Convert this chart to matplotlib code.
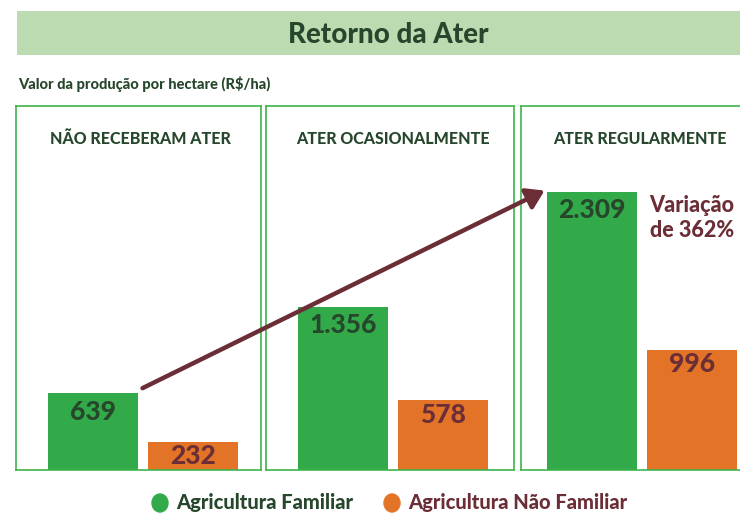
import matplotlib
matplotlib.use("Agg")
import matplotlib.pyplot as plt
from matplotlib.patches import Rectangle, FancyArrowPatch, Ellipse

# dados
panels = ["NÃO RECEBERAM ATER", "ATER OCASIONALMENTE", "ATER REGULARMENTE"]
familiar = [639, 1356, 2309]
nao_familiar = [232, 578, 996]
familiar_labels = ["639", "1.356", "2.309"]
nao_familiar_labels = ["232", "578", "996"]
series_names = ["Agricultura Familiar", "Agricultura Não Familiar"]
variacao = "Variação\nde 362%"

GREEN = "#33aa4a"
ORANGE = "#e37427"
DARK = "#26472b"
MAROON = "#6b2e36"
BORDER = "#3cb54a"
HEAVY = 900

plt.rcParams["font.family"] = ["Lato", "DejaVu Sans"]

W, H = 740, 513
fig = plt.figure(figsize=(W / 100, H / 100), dpi=100)


def fx(x):
    return x / W


def fy(y):
    return 1 - y / H


# faixa do título
fig.add_artist(Rectangle((fx(17), fy(55)), fx(740 - 17), (55 - 11) / H,
                         transform=fig.transFigure, color="#bddbb1", lw=0))
fig.text(fx(388), fy(35), "Retorno da Ater", ha="center", va="center",
         fontsize=20, fontweight=HEAVY, color=DARK)
fig.text(fx(18), fy(84), "Valor da produção por hectare (R$/ha)", ha="left",
         va="center", fontsize=10.5, fontweight=HEAVY, color=DARK)

# painéis: (esquerda, direita, centro da barra verde, centro do título) em pixels
boxes = [(16, 261, 93, 140), (266, 514, 343, 393), (521, 760, 592, 640)]
top, bottom = 106, 470
px_per_unit = 0.1205
ymax = (bottom - top) / px_per_unit

axes = []
for i, (l, r, gc, hc) in enumerate(boxes):
    ax = fig.add_axes([fx(l), fy(bottom), (r - l) / W, (bottom - top) / H])
    # 100 px por unidade no eixo x
    x0 = -(gc - l) / 100
    ax.set_xlim(x0, x0 + (r - l) / 100)
    ax.set_ylim(0, ymax)
    ax.set_xticks([])
    ax.set_yticks([])
    for s in ax.spines.values():
        s.set_color(BORDER)
        s.set_linewidth(1.2)
    ax.bar(0, familiar[i], width=0.9, color=GREEN)
    ax.bar(1.0, nao_familiar[i], width=0.9, color=ORANGE)
    ax.text(0, familiar[i] - 55, familiar_labels[i], ha="center", va="top",
            fontsize=19, fontweight=HEAVY, color=DARK)
    ax.text(1.0, nao_familiar[i] - 20, nao_familiar_labels[i], ha="center",
            va="top", fontsize=19, fontweight=HEAVY, color=MAROON)
    fig.text(fx(hc), fy(139), panels[i], ha="center", va="center",
             fontsize=11.5, fontweight=HEAVY, color=DARK)
    axes.append(ax)

# seta de variação
fig.canvas.draw()
p0 = axes[0].transData.transform((0.47, familiar[0] + 30))
p1 = axes[2].transData.transform((-0.45, familiar[2] + 20))
arrow = FancyArrowPatch(p0, p1, arrowstyle="-|>,head_length=7,head_width=4.5",
                        mutation_scale=1.5, color=MAROON, lw=3.2,
                        transform=None)
fig.add_artist(arrow)
fig.text(fx(692), fy(218), variacao, ha="center", va="center", fontsize=15.5,
         fontweight=HEAVY, color=MAROON, linespacing=1.2)

# legenda
for cx, tx, color, tcolor, name in [(160, 176, GREEN, DARK, series_names[0]),
                                    (392, 408, ORANGE, MAROON, series_names[1])]:
    fig.add_artist(Ellipse((fx(cx), fy(503)), 16 / W, 18 / H,
                           transform=fig.transFigure, color=color))
    fig.text(fx(tx), fy(503), name, ha="left", va="center", fontsize=14.5,
             fontweight=HEAVY, color=tcolor)

fig.savefig("out.png", dpi=100)
